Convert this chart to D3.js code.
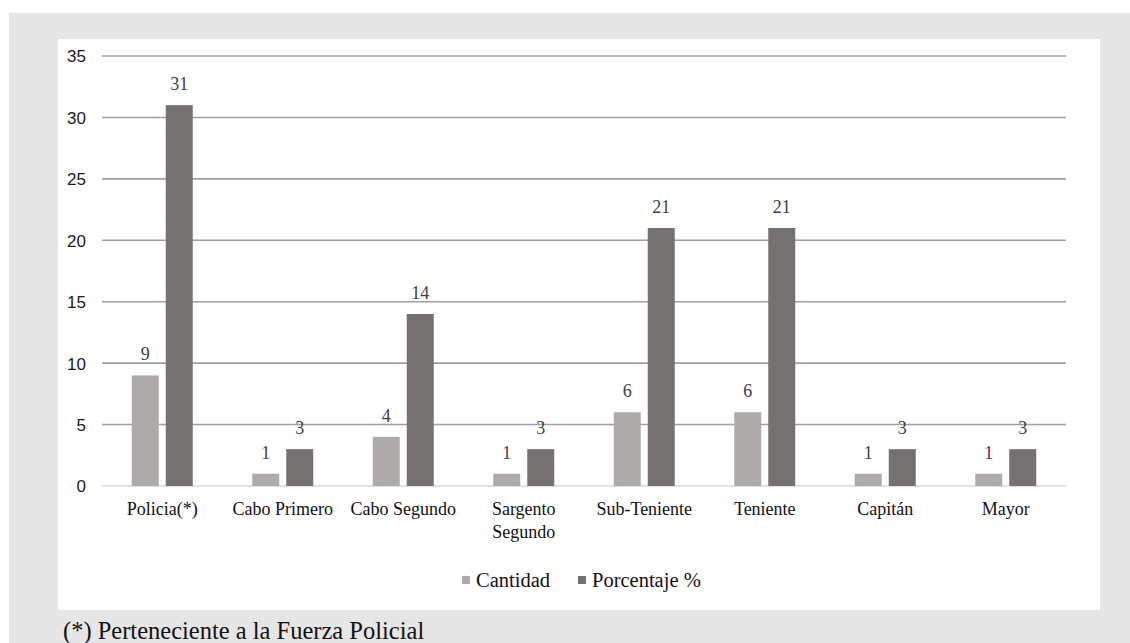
<!DOCTYPE html>
<html>
<head>
<meta charset="utf-8">
<script src="https://cdn.jsdelivr.net/npm/d3@7"></script>
<style>
  body { margin: 0; background: #fff; }
  svg { display: block; }
  .serif { font-family: "Liberation Serif", "Times New Roman", serif; }
  .sans { font-family: "Liberation Sans", Arial, sans-serif; }
</style>
</head>
<body>
<script>
// categories and series
var categories = ['Policia(*)', 'Cabo Primero', 'Cabo Segundo', 'Sargento Segundo', 'Sub-Teniente', 'Teniente', 'Capitán', 'Mayor']
var series = ['Cantidad', 'Porcentaje %']
var cantidad = [9, 1, 4, 1, 6, 6, 1, 1]
var porcentaje = [31, 3, 14, 3, 21, 21, 3, 3]
var yTicks = [0, 5, 10, 15, 20, 25, 30, 35]
var colors = ['#aeaaaa', '#757171']
var footnote = '(*) Perteneciente a la Fuerza Policial'

var data = categories.map(function(d, i){
  return {cat: d, values: [cantidad[i], porcentaje[i]]}
})

var W = 1130, H = 643
var svg = d3.select('body').append('svg').attr('width', W).attr('height', H)

// grey page + white chart panel
svg.append('rect').attr('x', 9).attr('y', 13).attr('width', W - 9).attr('height', H - 13).attr('fill', '#e6e6e6')
svg.append('rect').attr('x', 58).attr('y', 39).attr('width', 1042).attr('height', 571).attr('fill', '#fff')

var x0 = d3.scaleBand().domain(categories).range([102, 1066]).padding(0)
var x1 = d3.scaleBand().domain(series).range([-30.5, 30.5]).paddingInner(7 / 34)
var y = d3.scaleLinear().domain([0, 35]).range([486, 56])

// gridlines
svg.append('g').selectAll('line').data(yTicks).join('line')
  .attr('x1', 102).attr('x2', 1066)
  .attr('y1', function(d){ return y(d) }).attr('y2', function(d){ return y(d) })
  .attr('stroke', function(d){ return d === 0 ? '#d9d9d9' : '#9f9f9f' })
  .attr('stroke-width', 1.6)

// y axis labels
var yAxis = d3.axisLeft(y).tickValues(yTicks).tickSize(0).tickPadding(0)
var yg = svg.append('g').attr('transform', 'translate(86,0)').call(yAxis)
yg.select('.domain').remove()
yg.selectAll('text').attr('class', 'sans').attr('font-size', 17).attr('fill', '#1a1a1a')
  .attr('dy', '0.35em')

// bars
var groups = svg.append('g').selectAll('g').data(data).join('g')
  .attr('transform', function(d){ return 'translate(' + (x0(d.cat) + x0.bandwidth() / 2) + ',0)' })

groups.selectAll('rect').data(function(d){
  return d.values.map(function(v, i){ return {s: series[i], v: v, i: i} })
}).join('rect')
  .attr('x', function(d){ return x1(d.s) })
  .attr('width', x1.bandwidth())
  .attr('y', function(d){ return y(d.v) })
  .attr('height', function(d){ return y(0) - y(d.v) })
  .attr('fill', function(d){ return colors[d.i] })

// value labels
groups.selectAll('text').data(function(d){
  return d.values.map(function(v, i){ return {s: series[i], v: v} })
}).join('text')
  .attr('class', 'serif')
  .attr('x', function(d){ return x1(d.s) + x1.bandwidth() / 2 })
  .attr('y', function(d){ return y(d.v) - 15 })
  .attr('text-anchor', 'middle')
  .attr('font-size', 18)
  .attr('fill', '#404040')
  .text(function(d){ return d.v })

// x axis labels (wrap long ones)
var xl = svg.append('g').selectAll('text').data(categories).join('text')
  .attr('class', 'serif')
  .attr('x', function(d){ return x0(d) + x0.bandwidth() / 2 })
  .attr('y', 515)
  .attr('text-anchor', 'middle')
  .attr('font-size', 18)
  .attr('fill', '#111')

xl.each(function(d){
  var t = d3.select(this)
  var lines = d.length > 13 ? d.split(' ') : [d]
  lines.forEach(function(l, i){
    t.append('tspan').attr('x', x0(d) + x0.bandwidth() / 2).attr('dy', i ? 23 : 0).text(l)
  })
})

// legend
var legend = svg.append('g').attr('class', 'serif')
var legX = [462, 578]
series.forEach(function(s, i){
  var g = legend.append('g').attr('transform', 'translate(' + legX[i] + ',0)')
  g.append('rect').attr('x', 0).attr('y', 576).attr('width', 8).attr('height', 8).attr('fill', colors[i])
  g.append('text').attr('x', 14).attr('y', 587).attr('font-size', 20.5).attr('fill', '#111').text(s)
})

// footnote
svg.append('text').attr('class', 'serif')
  .attr('x', 63).attr('y', 639)
  .attr('font-size', 24.5)
  .attr('fill', '#111')
  .text(footnote)
</script>
</body>
</html>
